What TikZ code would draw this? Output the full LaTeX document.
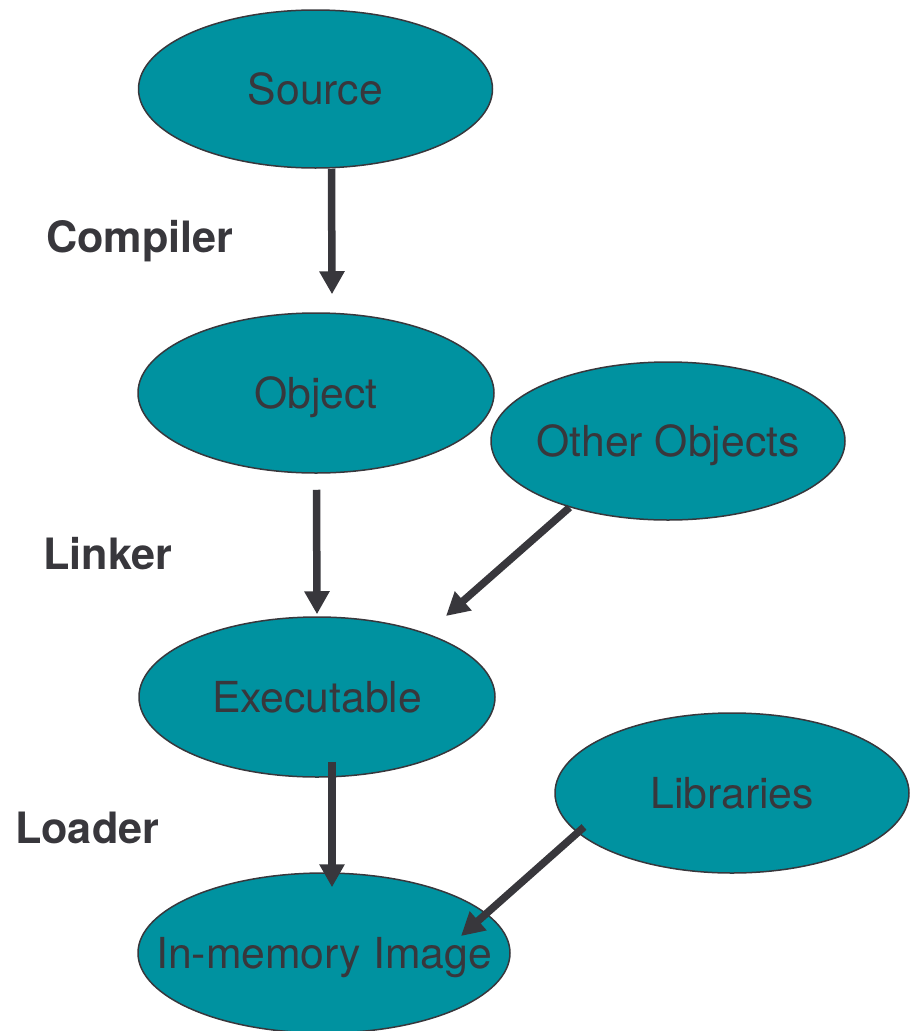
\documentclass[tikz,border=0pt]{standalone}
\usepackage{fontspec}
\setmainfont{TeX Gyre Heros}
\usetikzlibrary{shapes.geometric,arrows.meta}

\definecolor{stagefill}{RGB}{0,146,160}
\definecolor{ink}{RGB}{56,55,60}

% centred label whose baseline sits a little below the node centre
\newcommand{\stagetext}[1]{\makebox[0pt]{\smash{\raisebox{-15.5pt}{#1}}}}

\begin{document}
\begin{tikzpicture}[x=1pt,y=-1pt,
  stage/.style={ellipse, draw=ink, line width=1.5pt, fill=stagefill,
    inner sep=0pt, text=ink, font=\fontsize{42.7}{50}\selectfont},
  tool/.style={anchor=base west, inner sep=0pt, text=ink,
    font=\fontsize{43.2}{50}\selectfont\bfseries},
  flow/.style={draw=ink, line width=7.5pt,
    -{Triangle[length=23pt,width=24pt]}},
]
\useasboundingbox (0,0) rectangle (917,1031);

% build stages
\node[stage, minimum width=354pt, minimum height=158pt] (src)   at (315.5,89)  {\stagetext{Source}};
\node[stage, minimum width=356pt, minimum height=160pt] (obj)   at (316,393)   {\stagetext{Object}};
\node[stage, minimum width=354pt, minimum height=158pt] (other) at (668,441)   {\stagetext{Other Objects}};
\node[stage, minimum width=356pt, minimum height=160pt] (exe)   at (317,697)   {\stagetext{Executable}};
\node[stage, minimum width=354pt, minimum height=160pt] (lib)   at (732,793)   {\stagetext{Libraries}};
\node[stage, minimum width=372pt, minimum height=160pt] (img)   at (324,953)   {\stagetext{In-memory Image}};

% tools
\node[tool] (compiler) at (46,252) {Compiler};
\node[tool] (linker)   at (43,569) {Linker};
\node[tool] (loader)   at (15,843) {Loader};

% flow arrows
\draw[flow] ([shift={(16,0)}]src.south) -- ([shift={(16,-18)}]obj.north);
\draw[flow] ([shift={(0.5,16)}]obj.south) -- ([shift={(0,-2)}]exe.north);
\draw[flow] (other.214) -- ([shift={(129,-81)}]exe.center);
\draw[flow] ([shift={(15,-16)}]exe.south) -- ([shift={(8,15)}]img.north);
\draw[flow] ([shift={(-148,34)}]lib.center) -- ([shift={(137,-17)}]img.center);
\end{tikzpicture}
\end{document}
